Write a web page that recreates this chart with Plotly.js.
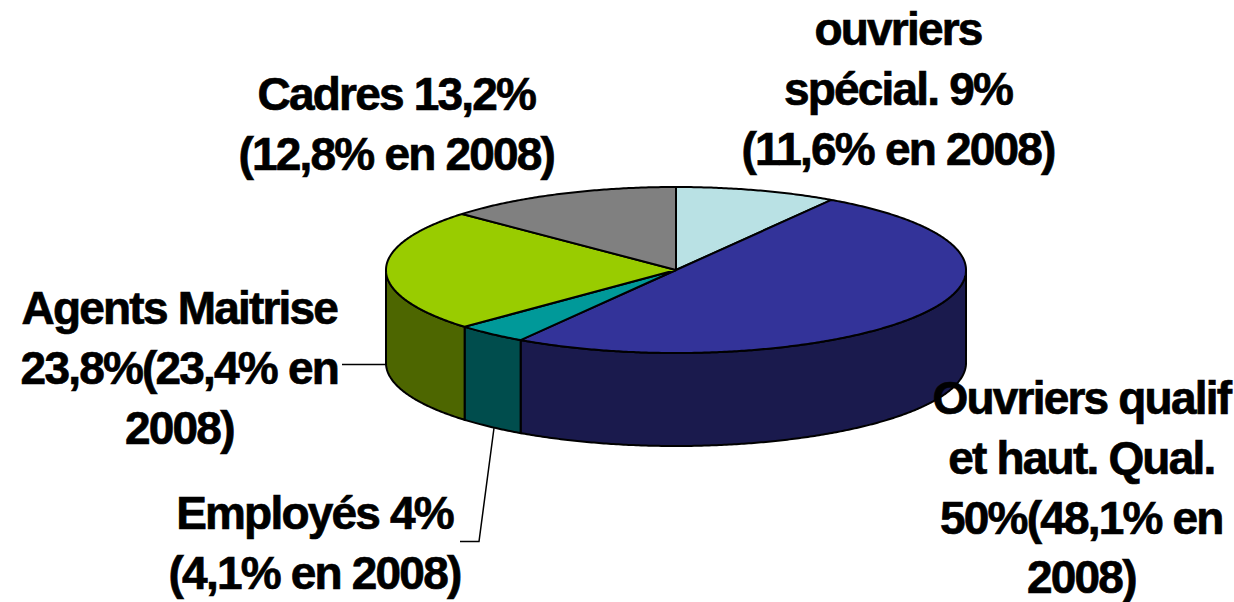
<!DOCTYPE html>
<html>
<head>
<meta charset="utf-8">
<script src="https://cdn.plot.ly/plotly-3.0.1.min.js"></script>
<style>
html,body{margin:0;padding:0;background:#fff;}
#chart{width:1234px;height:602px;}
.annotation text{letter-spacing:-1.8px;stroke:#000;stroke-width:0.7px;}
</style>
</head>
<body>
<div id="chart"></div>
<script>
// Data
var categories = ["ouvriers spécial.", "Ouvriers qualif et haut. Qual.", "Employés", "Agents Maitrise", "Cadres"];
var values2009 = [9, 50, 4, 23.8, 13.2];
var topColors  = ["#B9E1E4", "#333399", "#009999", "#99CC00", "#808080"];
var sideColors = ["#5C7072", "#1A1A4D", "#004D4D", "#4D6600", "#404040"];
var labelTexts = [
  "ouvriers<br>spécial. 9%<br>(11,6% en 2008)",
  "Ouvriers qualif<br>et haut. Qual.<br>50%(48,1% en<br>2008)",
  "Employés 4%<br>(4,1% en 2008)",
  "Agents Maitrise<br>23,8%(23,4% en<br>2008)",
  "Cadres 13,2%<br>(12,8% en 2008)"
];

// Geometry of the tilted disc, in pixel-matched axis units
var cx = 676, cy = 270, rx = 290, ry = 83, depth = 93;
var labelX = [898, 1081, 314, 179, 396];
var labelY = [89, 487, 543, 368, 124];

function rim(deg, dy) {
  var t = deg * Math.PI / 180;
  return [cx + rx * Math.sin(t), cy - ry * Math.cos(t) + (dy || 0)];
}
function arc(a, b, dy) {
  var n = Math.max(2, Math.ceil(Math.abs(b - a) * 2)), pts = [];
  for (var i = 0; i <= n; i++) pts.push(rim(a + (b - a) * i / n, dy));
  return pts;
}
function polyTrace(pts, fill) {
  return {
    type: "scatter", mode: "lines", fill: "toself", fillcolor: fill,
    x: pts.map(function (p) { return p[0]; }),
    y: pts.map(function (p) { return p[1]; }),
    line: { color: "#000", width: 2, simplify: false },
    hoverinfo: "skip", showlegend: false
  };
}

var total = values2009.reduce(function (a, b) { return a + b; }, 0);
var sideTraces = [], topTraces = [], start = 0;
values2009.forEach(function (v, i) {
  var end = start + v / total * 360;
  var a = Math.max(start, 90), b = Math.min(end, 270);
  if (b > a) {
    sideTraces.push(polyTrace(arc(a, b, 0).concat(arc(b, a, depth), [rim(a, 0)]), sideColors[i]));
  }
  topTraces.push(polyTrace([[cx, cy]].concat(arc(start, end, 0), [[cx, cy]]), topColors[i]));
  start = end;
});

var annotations = labelTexts.map(function (t, i) {
  return {
    x: labelX[i], y: labelY[i], xref: "x", yref: "y", text: t, showarrow: false,
    xanchor: "center", yanchor: "middle", align: "center",
    font: { family: "Liberation Sans, Arial, sans-serif", size: 46, color: "#000", weight: 700 }
  };
});

function leader(xs, ys) {
  return { type: "scatter", mode: "lines", x: xs, y: ys, line: { color: "#000", width: 1.5 }, hoverinfo: "skip", showlegend: false };
}

var layout = {
  width: 1234, height: 602,
  margin: { l: 0, r: 0, t: 0, b: 0 },
  paper_bgcolor: "#fff", plot_bgcolor: "#fff",
  showlegend: false,
  xaxis: { range: [0, 1234], visible: false, fixedrange: true },
  yaxis: { range: [602, 0], visible: false, fixedrange: true },
  annotations: annotations
};

var traces = [leader([342, 386], [364.5, 364.5]), leader([494, 479, 460], [428, 541.5, 541.5])]
  .concat(sideTraces, topTraces);

Plotly.newPlot("chart", traces, layout, { displayModeBar: false, staticPlot: true });
</script>
</body>
</html>
